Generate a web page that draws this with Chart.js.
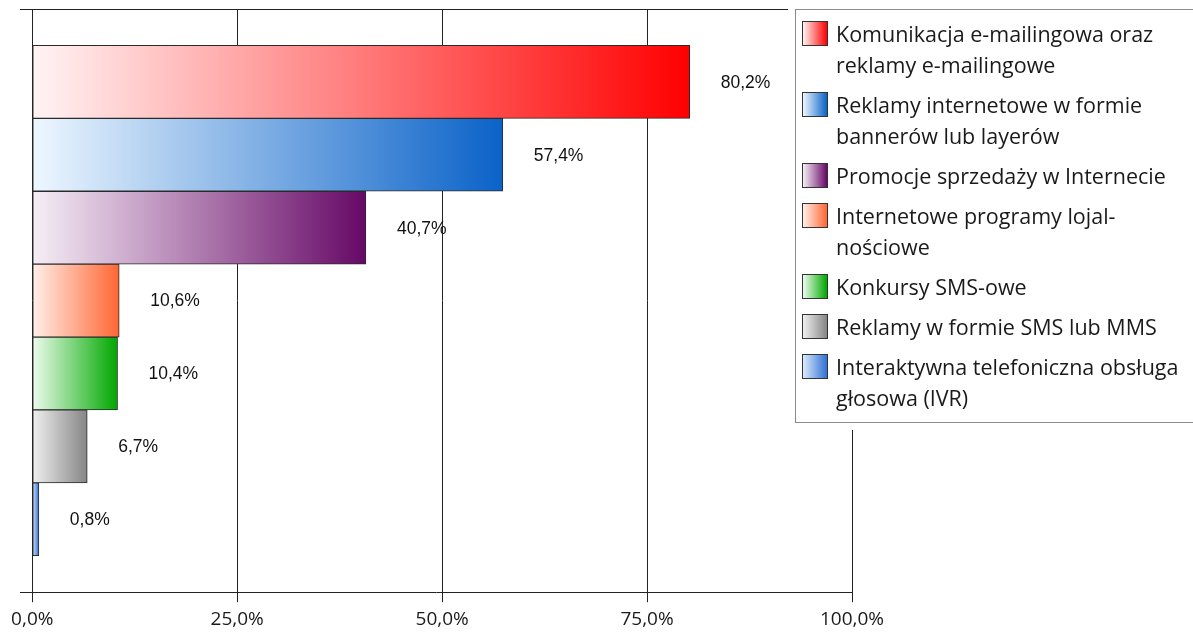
<!DOCTYPE html>
<html>
<head>
<meta charset="utf-8">
<script src="https://cdn.jsdelivr.net/npm/chart.js@4/dist/chart.umd.min.js"></script>
<style>
  html, body { margin: 0; padding: 0; background: #fff; overflow: hidden; }
  #wrap { position: relative; width: 1193px; height: 634px; }
  #legend {
    position: absolute; left: 795px; top: 9px; width: 420px;
    border: 1.5px solid #8a8a8a; background: #fff;
    box-shadow: 0 0 0 7px #fff;
    padding: 8px 0 0 0; box-sizing: border-box;
    font-family: "Open Sans", sans-serif; font-size: 21.5px; line-height: 31px; color: #1a1a1a;
  }
  .item { display: flex; align-items: flex-start; margin-bottom: 9px; padding-left: 6px; }
  .sw { width: 24px; height: 23px; border: 1.5px solid #333; margin-top: 3px; flex: none; }
  .tx { margin-left: 8px; white-space: nowrap; }
</style>
</head>
<body>
<div id="wrap">
  <canvas id="c" width="1193" height="634"></canvas>
  <div id="legend"></div>
</div>
<script>
const categories = [
  ["Komunikacja e-mailingowa oraz", "reklamy e-mailingowe"],
  ["Reklamy internetowe w formie", "bannerów lub layerów"],
  ["Promocje sprzedaży w Internecie"],
  ["Internetowe programy lojal-", "nościowe"],
  ["Konkursy SMS-owe"],
  ["Reklamy w formie SMS lub MMS"],
  ["Interaktywna telefoniczna obsługa", "głosowa (IVR)"]
];
const values = [80.2, 57.4, 40.7, 10.6, 10.4, 6.7, 0.8];
const tickValues = [0, 25, 50, 75, 100];
const colorsEnd = ["#ff0000", "#0a62c8", "#660866", "#ff6633", "#00a800", "#858585", "#2f72d6"];
const colorsStart = ["#fff4f4", "#eef7ff", "#f6eef6", "#fff0ea", "#eefcee", "#f0f0f0", "#dde9fb"];

// padded slots: half-slot space above first and below last bar
const labels = [""].concat(categories.map(c => c.join(" ")), [""]);
const data = [null].concat(values, [null]);

function fmt(v) { return v.toFixed(1).replace('.', ',') + '%'; }

// legend
const lg = document.getElementById('legend');
categories.forEach((lines, i) => {
  const it = document.createElement('div'); it.className = 'item';
  const sw = document.createElement('div'); sw.className = 'sw';
  sw.style.background = `linear-gradient(to right, ${colorsStart[i]}, ${colorsEnd[i]})`;
  const tx = document.createElement('div'); tx.className = 'tx';
  lines.forEach((l, k) => { if (k) tx.appendChild(document.createElement('br')); tx.appendChild(document.createTextNode(l)); });
  it.appendChild(sw); it.appendChild(tx); lg.appendChild(it);
});

const frame = {
  id: 'frame',
  afterDraw(chart) {
    const a = chart.chartArea, ctx = chart.ctx;
    ctx.save();
    ctx.strokeStyle = '#222'; ctx.lineWidth = 1;
    ctx.beginPath(); ctx.moveTo(a.left, Math.round(a.top) + 0.5); ctx.lineTo(a.right, Math.round(a.top) + 0.5); ctx.stroke();
    // value labels
    ctx.font = '17.5px "Liberation Sans", Arial, sans-serif';
    ctx.fillStyle = '#111'; ctx.textBaseline = 'middle'; ctx.textAlign = 'left';
    const meta = chart.getDatasetMeta(0);
    meta.data.forEach((el, i) => {
      const v = chart.data.datasets[0].data[i];
      if (v == null) return;
      ctx.fillText(fmt(v), el.x + 31, el.y + 1);
    });
    ctx.restore();
  }
};

new Chart(document.getElementById('c'), {
  type: 'bar',
  data: {
    labels: labels,
    datasets: [{
      data: data,
      borderColor: '#2a2a2a',
      borderWidth: 1,
      borderSkipped: false,
      categoryPercentage: 1,
      barPercentage: 1,
      backgroundColor(ctx) {
        const i = ctx.dataIndex - 1;
        const chart = ctx.chart;
        if (i < 0 || i >= values.length) return '#fff';
        const xs = chart.scales && chart.scales.x;
        if (!xs || !chart.chartArea) return colorsEnd[i];
        const x0 = xs.getPixelForValue(0), x1 = xs.getPixelForValue(values[i]);
        const g = chart.ctx.createLinearGradient(x0, 0, x1, 0);
        g.addColorStop(0, colorsStart[i]);
        g.addColorStop(1, colorsEnd[i]);
        return g;
      }
    }]
  },
  options: {
    indexAxis: 'y',
    responsive: false,
    animation: false,
    events: [],
    layout: { padding: { left: 20, top: 9, right: 341, bottom: -3 } },
    plugins: { legend: { display: false }, tooltip: { enabled: false } },
    scales: {
      x: {
        type: 'linear', min: -1.5, max: 100, z: 1,
        afterBuildTicks(scale) { scale.ticks = tickValues.map(v => ({ value: v })); },
        ticks: {
          callback: v => fmt(v), padding: 6, color: '#1a1a1a',
          font: { family: '"Open Sans", sans-serif', size: 19 }
        },
        grid: { color: '#222', lineWidth: 1, tickLength: 10, drawOnChartArea: true },
        border: { display: true, color: '#222', width: 1 }
      },
      y: {
        type: 'category', offset: false, display: false,
        grid: { display: false }
      }
    }
  },
  plugins: [frame]
});
</script>
</body>
</html>
